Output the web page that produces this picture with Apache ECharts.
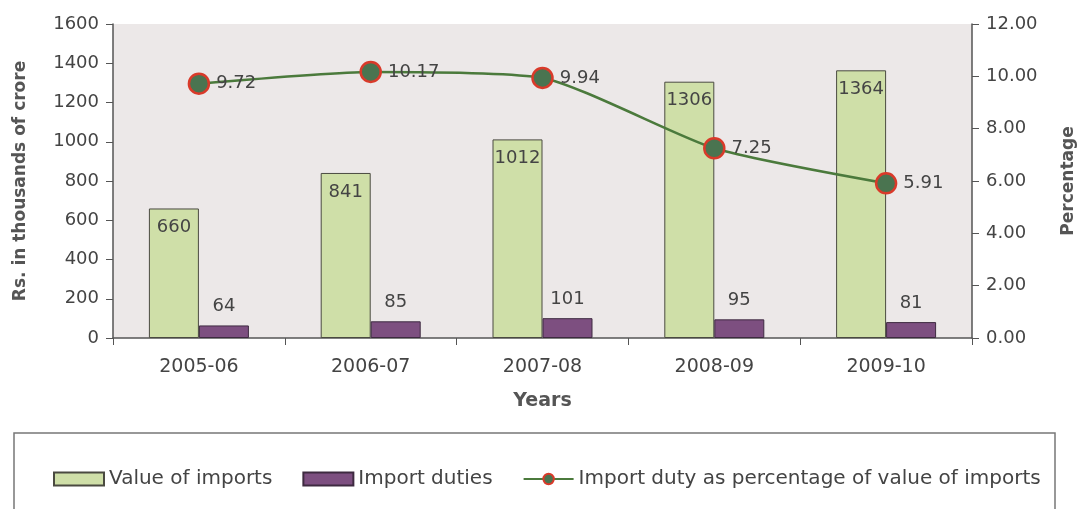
<!DOCTYPE html>
<html>
<head>
<meta charset="utf-8">
<script src="https://cdn.jsdelivr.net/npm/echarts@6/dist/echarts.min.js"></script>
<style>
  html, body { margin: 0; padding: 0; background: #fff; }
  #chart { width: 1085px; height: 509px; }
</style>
</head>
<body>
<div id="chart"></div>
<script>
// data
var years = ['2005-06', '2006-07', '2007-08', '2008-09', '2009-10'];
var valueOfImports = [660, 841, 1012, 1306, 1364];
var importDuties = [64, 85, 101, 95, 81];
var dutyPercent = [9.72, 10.17, 9.94, 7.25, 5.91];

var txt = '#444';
var font = '"DejaVu Sans", Arial, sans-serif';

var chart = echarts.init(document.getElementById('chart'));

var option = {
    backgroundColor: '#fff',
    animation: false,
    textStyle: { fontFamily: font },
    grid: {
        left: 113, right: 101, top: 24, bottom: 171,
        show: true, backgroundColor: '#ece8e8', borderWidth: 0
    },
    graphic: [{
        type: 'rect',
        shape: { x: 14, y: 433, width: 1041, height: 100 },
        style: { fill: '#fff', stroke: '#777', lineWidth: 1.5 },
        z: -1
    }],
    legend: {
        top: 464, left: 48,
        itemGap: 30,
        itemWidth: 50, itemHeight: 13,
        textStyle: { fontSize: 20, color: txt, fontFamily: font },
        data: [
            { name: 'Value of imports', icon: 'rect' },
            { name: 'Import duties', icon: 'rect' },
            { name: 'Import duty as percentage of value of imports' }
        ]
    },
    xAxis: {
        type: 'category',
        data: years,
        name: 'Years',
        nameLocation: 'middle',
        nameGap: 54,
        nameTextStyle: { fontSize: 19, fontWeight: 'bold', color: '#555' },
        axisLine: { lineStyle: { color: '#555', width: 1.5 } },
        axisTick: { show: true, length: 7, lineStyle: { color: '#555' } },
        axisLabel: { fontSize: 19, color: txt, margin: 20 }
    },
    yAxis: [{
        type: 'value',
        min: 0, max: 1600, interval: 200,
        name: 'Rs. in thousands of crore',
        nameLocation: 'middle',
        nameGap: 84,
        nameTextStyle: { fontSize: 17, fontWeight: 'bold', color: '#555' },
        axisLine: { show: true, lineStyle: { color: '#555', width: 1.5 } },
        axisTick: { show: true, length: 7, lineStyle: { color: '#555' } },
        axisLabel: { fontSize: 18, color: txt, margin: 14, formatter: function (v) { return String(v); } },
        splitLine: { show: false }
    }, {
        type: 'value',
        min: 0, max: 12, interval: 2,
        name: 'Percentage',
        nameLocation: 'middle',
        nameGap: 88,
        nameRotate: 90,
        nameTextStyle: { fontSize: 17, fontWeight: 'bold', color: '#555' },
        axisLine: { show: true, lineStyle: { color: '#555', width: 1.5 } },
        axisTick: { show: true, length: 7, lineStyle: { color: '#555' } },
        axisLabel: { fontSize: 18, color: txt, margin: 14, formatter: function (v) { return v.toFixed(2); } },
        splitLine: { show: false }
    }],
    series: [{
        name: 'Value of imports',
        type: 'bar',
        data: valueOfImports,
        barWidth: 50,
        barGap: '0%',
        itemStyle: { color: '#cfdfa8', borderColor: '#4a4a40', borderWidth: 1 },
        label: {
            show: true, position: 'insideTop', distance: 10,
            fontSize: 18, color: txt
        }
    }, {
        name: 'Import duties',
        type: 'bar',
        data: importDuties,
        barWidth: 50,
        itemStyle: { color: '#7d4f80', borderColor: '#3e2a40', borderWidth: 1 },
        label: {
            show: true, position: 'top', distance: 10,
            fontSize: 18, color: txt
        }
    }, {
        name: 'Import duty as percentage of value of imports',
        type: 'line',
        yAxisIndex: 1,
        data: dutyPercent,
        smooth: 0.2,
        symbol: 'circle',
        symbolSize: 20,
        lineStyle: { color: '#4b7a3c', width: 2.5 },
        itemStyle: { color: '#4a7450', borderColor: '#d93a2a', borderWidth: 2.5 },
        label: {
            show: true, position: 'right', distance: 6,
            fontSize: 18, color: txt,
            formatter: function (p) { return p.value.toFixed(2); }
        },
        z: 5
    }]
};

chart.setOption(option);
</script>
</body>
</html>
